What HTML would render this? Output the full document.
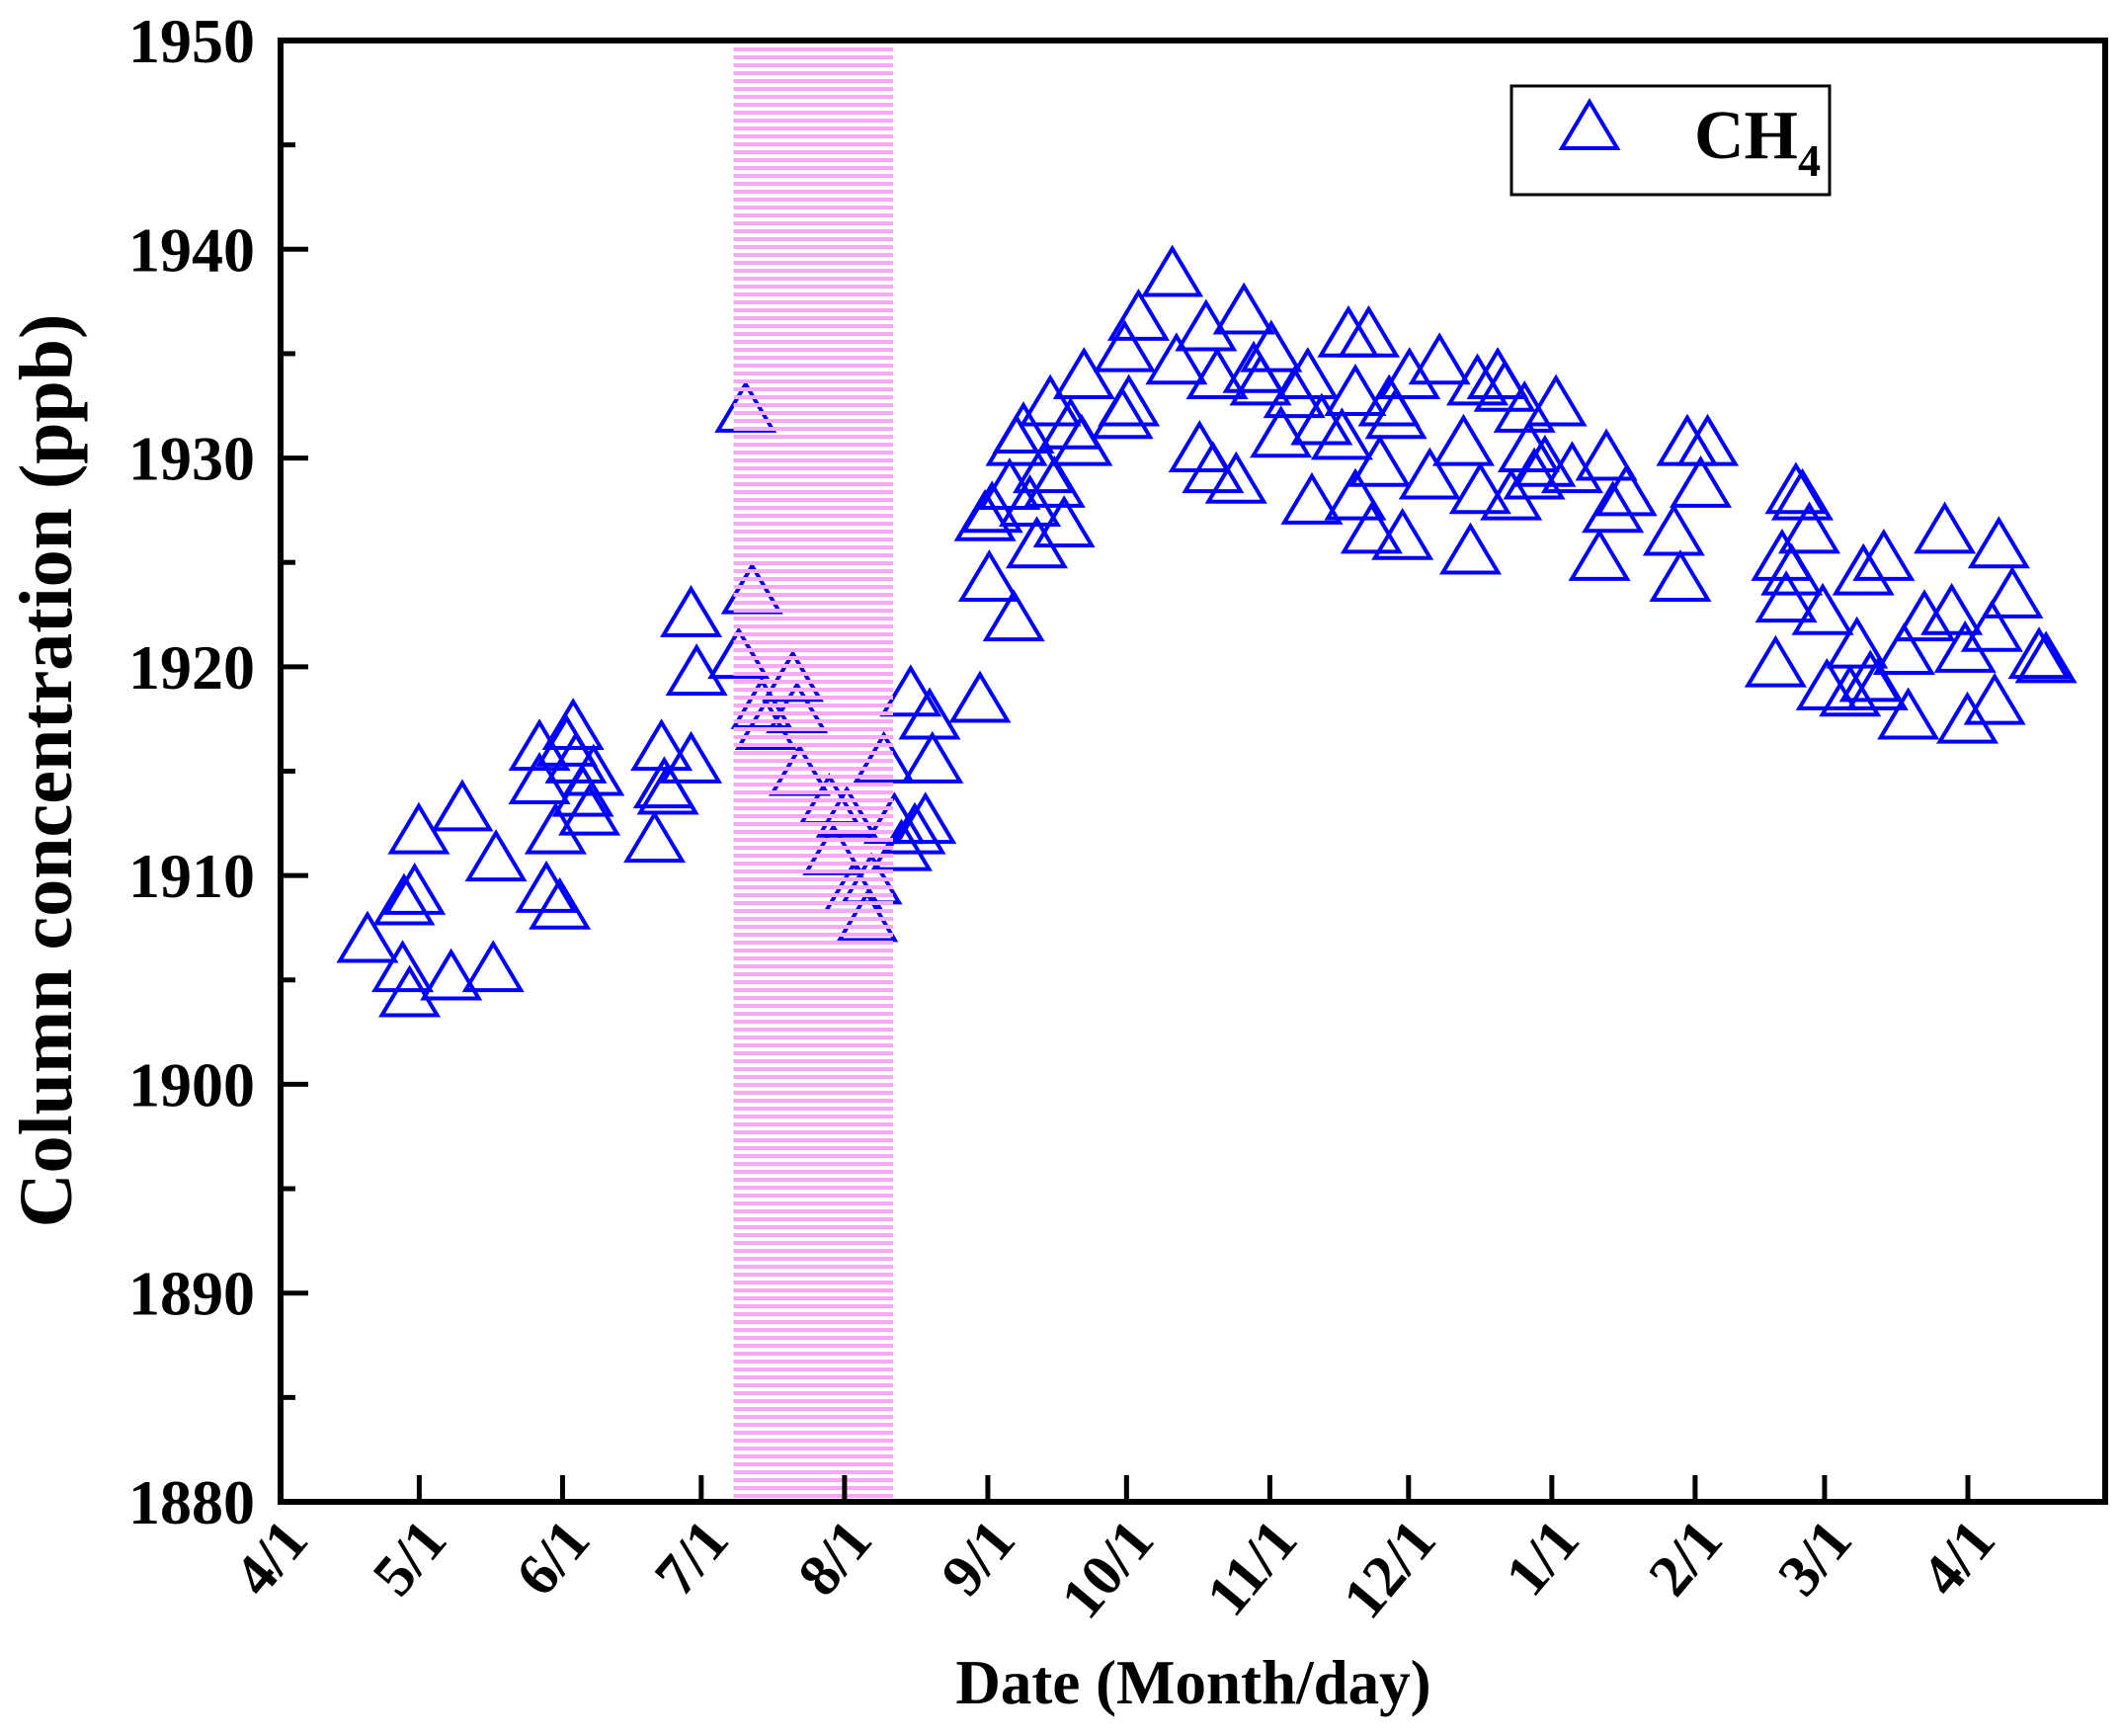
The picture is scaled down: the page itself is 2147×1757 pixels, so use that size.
<!DOCTYPE html>
<html><head><meta charset="utf-8"><style>
html,body{margin:0;padding:0;background:#fff;}
svg{display:block;font-family:"Liberation Serif",serif;font-weight:bold;}
</style></head><body>
<svg id="chart" width="2147" height="1757" viewBox="0 0 2147 1757">
<defs>
<pattern id="stripes" width="8" height="8" patternUnits="userSpaceOnUse">
<rect x="0" y="0" width="8" height="4" fill="#fca8f8"/>
</pattern>
<clipPath id="plotclip"><rect x="284" y="41" width="1847" height="1479"/></clipPath>
</defs>
<g id="marks" clip-path="url(#plotclip)"></g>
<rect id="band" fill="url(#stripes)"/>
<g id="axes"></g>
<rect x="284" y="41" width="1847" height="1479" fill="none" stroke="#000" stroke-width="6"/>
<text x="0" y="0" transform="translate(72,780) rotate(-90)" text-anchor="middle" font-size="76">Column concentration (ppb)</text>
<text x="1208" y="1724" text-anchor="middle" font-size="63">Date (Month/day)</text>
<g>
<rect x="1530" y="87" width="322" height="110" fill="#fff" stroke="#000" stroke-width="3"/>
<polygon points="1609,103 1581,150 1637,150" fill="none" stroke="#0000ff" stroke-width="4"/>
<text x="1715" y="160" font-size="70">CH<tspan font-size="46" dy="18">4</tspan></text>
</g>
</svg>
<script>
const days=[18.8,26.4,27.9,26.7,29.0,29.9,36.9,39.3,46.0,46.6,56.0,56.0,57.5,60.4,59.5,61.9,63.3,63.9,65.4,66.8,67.7,80.9,82.4,83.0,83.8,88.8,88.8,90.0,99.1,100.6,102.0,104.1,105.0,110.8,111.7,112.3,118.7,119.6,122.5,124.0,126.9,127.8,130.5,132.8,134.3,136.3,137.2,139.5,140.4,141.0,151.3,152.4,153.9,153.3,157.7,158.6,159.2,160.7,162.1,163.6,165.1,166.5,167.4,169.5,170.9,173.3,173.8,182.1,182.6,183.5,185.6,192.9,193.8,198.8,200.2,201.7,202.6,206.7,208.4,210.5,212.0,214.3,216.4,219.3,222.2,223.1,225.2,229.6,231.0,232.5,235.4,232.5,236.0,237.8,239.8,241.3,242.7,244.2,248.6,250.7,255.9,257.4,258.9,259.5,263.3,264.8,266.2,269.1,270.0,271.2,273.5,275.9,279.4,285.3,286.8,288.2,291.1,301.4,302.8,304.3,307.2,308.7,323.4,324.8,325.7,326.9,327.8,329.2,330.7,333.6,334.5,339.5,341.0,342.4,343.9,345.4,346.8,351.2,352.1,355.6,360.0,361.5,364.4,364.9,370.8,370.2,371.7,374.6,380.4,381.9];
const ch4=[1907.0,1905.6,1904.4,1908.8,1909.3,1912.2,1905.2,1913.3,1905.6,1910.9,1914.6,1916.2,1909.4,1908.6,1912.2,1916.4,1917.2,1915.6,1914.0,1913.1,1915.0,1911.8,1916.2,1914.4,1914.1,1915.6,1922.6,1919.8,1920.6,1932.4,1923.7,1918.2,1917.2,1919.5,1918.0,1915.0,1913.6,1911.2,1913.0,1909.4,1908.0,1909.8,1915.6,1912.7,1911.4,1918.8,1912.2,1912.7,1917.7,1915.6,1918.5,1927.2,1927.6,1924.3,1928.7,1922.4,1930.8,1931.4,1927.9,1925.9,1929.5,1932.7,1928.8,1926.9,1931.6,1930.8,1934.0,1932.1,1935.3,1932.7,1936.8,1938.9,1934.7,1930.5,1936.3,1929.5,1934.0,1929.0,1937.1,1934.3,1933.7,1935.3,1931.2,1933.1,1934.0,1928.0,1931.8,1931.1,1936.0,1928.2,1936.0,1933.2,1926.6,1929.8,1932.7,1932.1,1926.3,1934.0,1929.2,1934.7,1930.8,1925.6,1933.7,1928.5,1934.0,1933.4,1928.2,1932.4,1930.5,1929.2,1929.8,1932.7,1929.5,1925.3,1930.1,1927.6,1928.4,1926.5,1924.3,1930.8,1928.8,1930.8,1920.2,1925.3,1923.3,1924.6,1928.5,1928.2,1926.6,1922.7,1919.1,1918.8,1921.1,1924.6,1919.5,1919.1,1925.3,1920.8,1917.7,1922.4,1926.6,1922.7,1920.9,1917.5,1918.4,1921.9,1925.9,1923.5,1920.6,1920.4];
const xTickDays=[0,30,61,91,122,153,183,214,244,275,306,334,365];
const xTickLabels=["4/1","5/1","6/1","7/1","8/1","9/1","10/1","11/1","12/1","1/1","2/1","3/1","4/1"];
const yTicks=[1880,1890,1900,1910,1920,1930,1940,1950];
const bandDays=[98,132.5];

const NS="http://www.w3.org/2000/svg";
const X0=284,X1=2131,Y0=1520,Y1=41;
function xs(d){return X0+d*(1992-284)/365;}
function ys(v){return Y0-(v-1880)*(Y0-Y1)/70;}
function mk(tag,attrs,parent){const e=document.createElementNS(NS,tag);for(const k in attrs)e.setAttribute(k,attrs[k]);parent.appendChild(e);return e;}

const band=document.getElementById('band');
band.setAttribute('x',xs(bandDays[0]));
band.setAttribute('y',Y1);
band.setAttribute('width',xs(bandDays[1])-xs(bandDays[0]));
band.setAttribute('height',Y0-Y1);

const marks=document.getElementById('marks');
for(let i=0;i<days.length;i++){
  const x=xs(days[i]),y=ys(ch4[i]);
  const p=mk('polygon',{points:`${x},${y-24} ${x-28},${y+23} ${x+28},${y+23}`,fill:'none',stroke:'#0000ff','stroke-width':4},marks);
  
  
}

const axes=document.getElementById('axes');
yTicks.forEach(v=>{
  const y=ys(v);
  const t=mk('line',{x1:X0,x2:X0+28,y1:y,y2:y,stroke:'#000','stroke-width':5},axes);
  
  
  const l=mk('text',{x:258,y:y+22,'text-anchor':'end','font-size':64},axes);
  l.textContent=v;
  
  
  if(v<1950){
    const ym=ys(v+5);
    const m=mk('line',{x1:X0,x2:X0+15,y1:ym,y2:ym,stroke:'#000','stroke-width':5},axes);
    
    
  }
});
xTickDays.forEach((d,i)=>{
  const x=xs(d);
  if(i>0){
    const t=mk('line',{x1:x,x2:x,y1:Y0,y2:Y0-27,stroke:'#000','stroke-width':5},axes);
    
    
  }
  const l=mk('text',{x:0,y:0,'text-anchor':'end','font-size':60,transform:`translate(${x+30},${1560}) rotate(-50)`},axes);
  l.textContent=xTickLabels[i];
  
  
});
</script>
</body></html>
